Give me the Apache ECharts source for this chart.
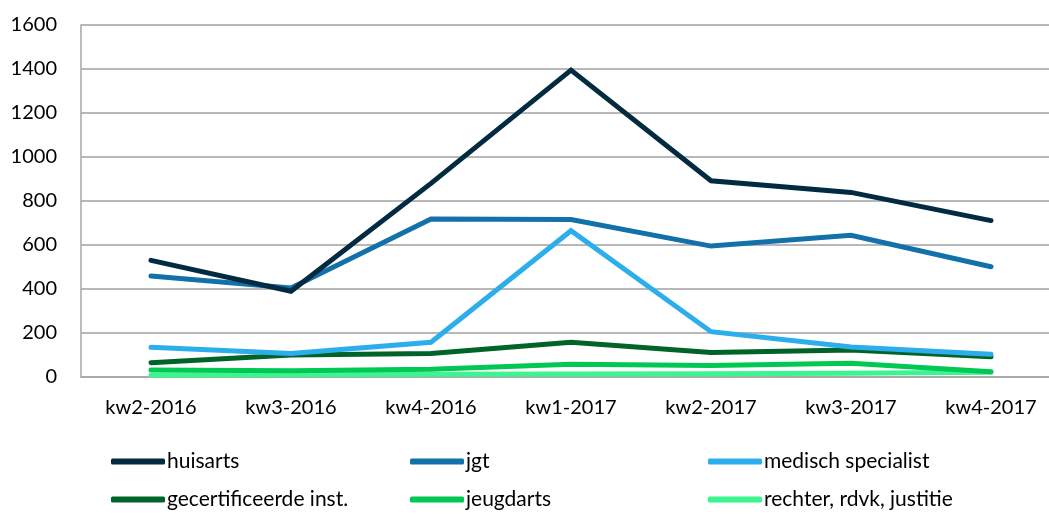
<!DOCTYPE html>
<html><head><meta charset="utf-8">
<script src="https://cdn.jsdelivr.net/npm/echarts@6/dist/echarts.min.js"></script>
<style>html,body{margin:0;padding:0;background:#fff}#c{width:1049px;height:514px}</style>
</head><body><div id="c"></div>
<script>
const categories = ['kw2-2016','kw3-2016','kw4-2016','kw1-2017','kw2-2017','kw3-2017','kw4-2017'];
const huisarts = [530, 390, 880, 1395, 892, 839, 711];
const jgt = [459, 405, 718, 716, 595, 644, 501];
const medischSpecialist = [135, 107, 158, 665, 206, 136, 103];
const gecertificeerdeInst = [65, 100, 107, 158, 111, 123, 92];
const jeugdarts = [32, 28, 35, 58, 52, 62, 24];
const rechter = [8, 10, 12, 14, 15, 17, 22];
const yTicks = [0, 200, 400, 600, 800, 1000, 1200, 1400, 1600];

const names = ['huisarts','jgt','medisch specialist','gecertificeerde inst.','jeugdarts','rechter, rdvk, justitie'];
const values = [huisarts, jgt, medischSpecialist, gecertificeerdeInst, jeugdarts, rechter];
const colors = ['#022B42','#1271A8','#2DAEEC','#006428','#00C853','#3CF590'];

const font = 'Lato, "Open Sans", sans-serif';
const chart = echarts.init(document.getElementById('c'));
const colLeft = [111, 410, 708];
const rowTop = [451, 489];
const legends = names.map((n, i) => ({
  orient: 'horizontal', left: colLeft[i % 3], top: rowTop[Math.floor(i / 3)],
  itemWidth: 54, itemHeight: 6, icon: 'roundRect', padding: 0,
  textStyle: { fontFamily: font, fontSize: 21, color: '#000', padding: [0,0,0,-3] },
  data: [n]
}));
chart.setOption({
  animation: false,
  grid: { left: 81, width: 980, top: 25, height: 352, outerBoundsMode: 'none', containLabel: false },
  legend: legends,
  xAxis: {
    type: 'category', data: categories, boundaryGap: true,
    axisLine: { lineStyle: { color: '#A6A6A6', width: 1.5 } },
    axisTick: { show: false },
    axisLabel: { fontFamily: font, fontSize: 20, color: '#000', margin: 21 }
  },
  yAxis: {
    type: 'value', min: yTicks[0], max: yTicks[yTicks.length-1], interval: 200,
    axisLine: { show: true, lineStyle: { color: '#A6A6A6', width: 1.5 } },
    axisTick: { show: false },
    splitLine: { lineStyle: { color: '#A0A0A0', width: 1.5 } },
    axisLabel: { fontFamily: font, fontSize: 20, color: '#000', margin: 24, formatter: v => String(v) }
  },
  series: names.map((n, i) => ({
    name: n, type: 'line', data: values[i], symbol: 'none',
    z: 10 - i,
    lineStyle: { color: colors[i], width: 5, cap: 'round', join: 'miter' },
    itemStyle: { color: colors[i] }
  })).reverse()
});
</script></body></html>
